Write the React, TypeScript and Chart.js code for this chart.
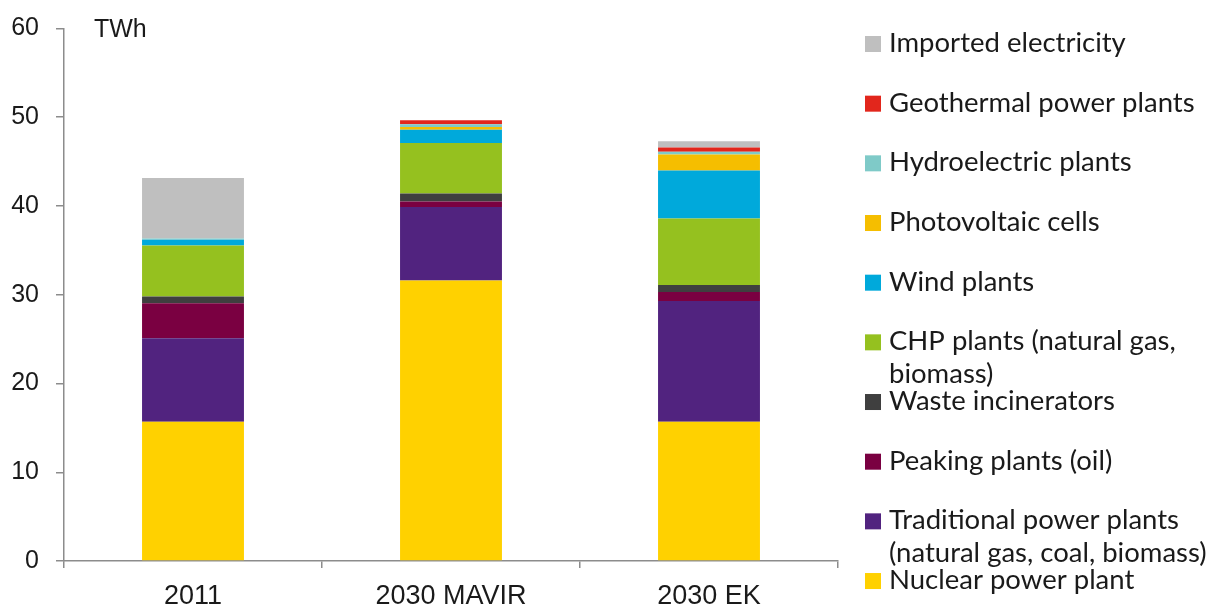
import React, { useEffect, useRef } from "react";
import { Chart, registerables } from "chart.js";

Chart.register(...registerables);

const categories = ["2011", "2030 MAVIR", "2030 EK"];

const nuclear = [15.7, 31.6, 15.7];
const traditional = [9.4, 8.3, 13.6];
const peaking = [3.95, 0.6, 1.0];
const waste = [0.75, 0.9, 0.8];
const chp = [5.75, 5.7, 7.5];
const wind = [0.65, 1.5, 5.4];
const photovoltaic = [0, 0.3, 1.8];
const hydro = [0.15, 0.3, 0.3];
const geothermal = [0, 0.45, 0.5];
const imported = [6.8, 0, 0.7];

const yMin = 0;
const yMax = 60;
const yStep = 10;
const unitLabel = "TWh";

const seriesLabels = [
  ["Nuclear power plant"],
  ["Traditional power plants", "(natural gas, coal, biomass)"],
  ["Peaking plants (oil)"],
  ["Waste incinerators"],
  ["CHP plants (natural gas,", "biomass)"],
  ["Wind plants"],
  ["Photovoltaic cells"],
  ["Hydroelectric plants"],
  ["Geothermal power plants"],
  ["Imported electricity"],
];
const seriesValues = [nuclear, traditional, peaking, waste, chp, wind, photovoltaic, hydro, geothermal, imported];
const seriesColors = [
  "#FFD100",
  "#51237F",
  "#7A0041",
  "#3F3F3F",
  "#95C11F",
  "#00A9DB",
  "#F5BE00",
  "#7FCAC8",
  "#E2261C",
  "#BFBFBF",
];

const AXIS_COLOR = "#8c8c8c";
const TEXT_COLOR = "#1a1a1a";
const TICK_FONT = "'Liberation Sans', Arial, sans-serif";
const LEGEND_FONT = "Lato, 'Noto Sans', sans-serif";

const customLegend = {
  id: "customLegend",
  afterDraw(chart: any) {
    const ctx = chart.ctx;
    const datasets = chart.data.datasets;
    ctx.save();
    // unit label
    ctx.fillStyle = TEXT_COLOR;
    ctx.font = `25px ${TICK_FONT}`;
    ctx.textBaseline = "alphabetic";
    ctx.textAlign = "left";
    ctx.fillText(unitLabel, chart.chartArea.left + 30, 37);

    // legend, top to bottom = reverse stacking order
    ctx.font = `27.5px ${LEGEND_FONT}`;
    const startBaseline = 52;
    const step = 59.67;
    const boxX = 865;
    const textX = 889;
    const boxSize = 16;
    const n = datasets.length;
    for (let i = 0; i < n; i++) {
      const ds = datasets[n - 1 - i];
      const base = startBaseline + i * step;
      ctx.fillStyle = ds.backgroundColor;
      ctx.fillRect(boxX, base - boxSize, boxSize, boxSize);
      ctx.fillStyle = TEXT_COLOR;
      const lines: string[] = ds.legendLines;
      lines.forEach((line, j) => {
        ctx.fillText(line, textX, base + j * 33);
      });
    }
    ctx.restore();
  },
};

export default function App() {
  const canvasRef = useRef<HTMLCanvasElement | null>(null);

  useEffect(() => {
    if (!canvasRef.current) return;
    const datasets = seriesValues.map((vals, i) => ({
      label: seriesLabels[i].join(" "),
      legendLines: seriesLabels[i],
      data: vals,
      backgroundColor: seriesColors[i],
      borderWidth: 0,
      categoryPercentage: 1,
      barPercentage: 0.395,
    }));

    const chart = new Chart(canvasRef.current, {
      type: "bar",
      data: { labels: categories, datasets: datasets as any },
      options: {
        animation: false,
        responsive: false,
        maintainAspectRatio: false,
        layout: { padding: { top: 28.5, right: 371, bottom: 0, left: 0 } },
        plugins: {
          legend: { display: false },
          tooltip: { enabled: false },
          title: { display: false },
        },
        scales: {
          x: {
            stacked: true,
            offset: true,
            grid: {
              display: true,
              offset: true,
              drawOnChartArea: false,
              drawTicks: true,
              tickLength: 7,
              color: AXIS_COLOR,
              lineWidth: 1.5,
            },
            border: { display: true, color: AXIS_COLOR, width: 1.5 },
            ticks: {
              color: TEXT_COLOR,
              font: { family: TICK_FONT, size: 27 },
              padding: 12,
              maxRotation: 0,
              autoSkip: false,
            },
            afterFit(scale: any) {
              scale.height = 47;
            },
          },
          y: {
            stacked: true,
            min: yMin,
            max: yMax,
            grid: {
              display: true,
              drawOnChartArea: false,
              drawTicks: true,
              tickLength: 8,
              color: AXIS_COLOR,
              lineWidth: 1.5,
            },
            border: { display: true, color: AXIS_COLOR, width: 1.5 },
            ticks: {
              stepSize: yStep,
              color: TEXT_COLOR,
              font: { family: TICK_FONT, size: 25 },
              padding: 17,
            },
            afterFit(scale: any) {
              scale.width = 64;
              scale.paddingTop = 0;
              scale.paddingBottom = 0;
            },
          },
        },
      },
      plugins: [customLegend],
    });
    return () => chart.destroy();
  }, []);

  return (
    <div style={{ position: "fixed", left: 0, top: 0, width: 1209, height: 608, background: "#fff" }}>
      <canvas ref={canvasRef} width={1209} height={608} style={{ display: "block", width: 1209, height: 608 }} />
    </div>
  );
}
